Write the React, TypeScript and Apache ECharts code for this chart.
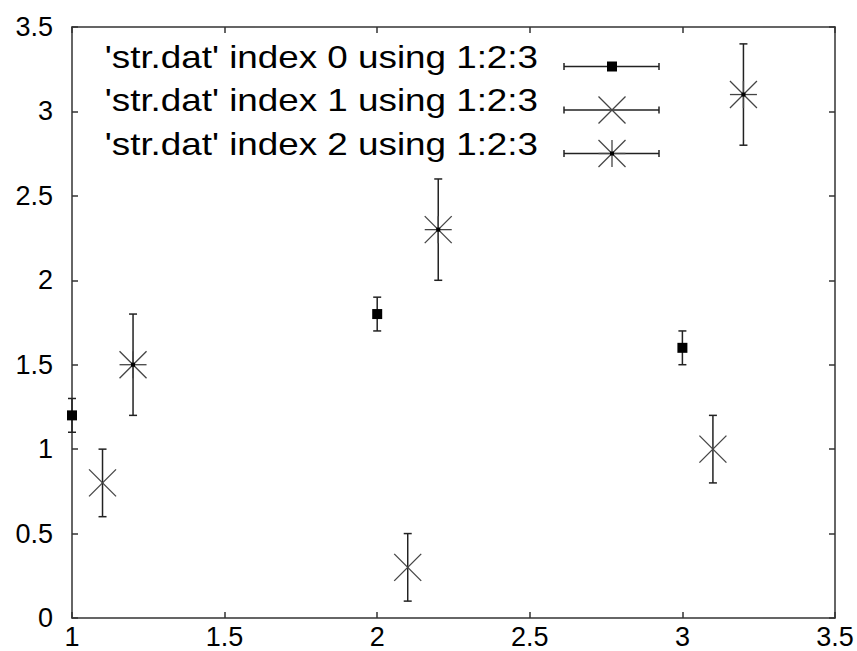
import React, { useEffect, useRef } from "react";
import * as echarts from "echarts";

const seriesNames = [
  "'str.dat' index 0 using 1:2:3",
  "'str.dat' index 1 using 1:2:3",
  "'str.dat' index 2 using 1:2:3",
];
const markerKinds = ["square", "cross", "star"];

const xValues0 = [1, 2, 3];
const yValues0 = [1.2, 1.8, 1.6];
const errors0 = [0.1, 0.1, 0.1];

const xValues1 = [1.1, 2.1, 3.1];
const yValues1 = [0.8, 0.3, 1.0];
const errors1 = [0.2, 0.2, 0.2];

const xValues2 = [1.2, 2.2, 3.2];
const yValues2 = [1.5, 2.3, 3.1];
const errors2 = [0.3, 0.3, 0.3];

const xTicks = [1, 1.5, 2, 2.5, 3, 3.5];
const yTicks = [0, 0.5, 1, 1.5, 2, 2.5, 3, 3.5];

const FONT = '"Liberation Sans", Arial, sans-serif';
const BAR_COLOR = "#222";
const MARK_COLOR = "#444";

function markerShapes(kind: string, cx: number, cy: number): any[] {
  const r = 13.5;
  const ls = { stroke: MARK_COLOR, lineWidth: 1.3 };
  if (kind === "square") {
    return [
      { type: "rect", shape: { x: cx - 5, y: cy - 5, width: 10, height: 10 }, style: { fill: "#000" } },
    ];
  }
  const out: any[] = [
    { type: "line", shape: { x1: cx - r, y1: cy - r, x2: cx + r, y2: cy + r }, style: ls },
    { type: "line", shape: { x1: cx - r, y1: cy + r, x2: cx + r, y2: cy - r }, style: ls },
  ];
  if (kind === "star") {
    out.push({ type: "line", shape: { x1: cx - r, y1: cy, x2: cx + r, y2: cy }, style: ls });
    out.push({ type: "line", shape: { x1: cx, y1: cy - r, x2: cx, y2: cy + r }, style: ls });
    out.push({ type: "rect", shape: { x: cx - 2, y: cy - 2, width: 4, height: 4 }, style: { fill: "#000" } });
  }
  return out;
}

function makeRenderItem(kind: string) {
  return (params: any, api: any) => {
    const x = api.value(0);
    const y = api.value(1);
    const e = api.value(2);
    const c = api.coord([x, y]);
    const hi = api.coord([x, y + e]);
    const lo = api.coord([x, y - e]);
    const bs = { stroke: BAR_COLOR, lineWidth: 1.5 };
    const cap = 4;
    return {
      type: "group",
      children: [
        { type: "line", shape: { x1: c[0], y1: hi[1], x2: c[0], y2: lo[1] }, style: bs },
        { type: "line", shape: { x1: c[0] - cap, y1: hi[1], x2: c[0] + cap, y2: hi[1] }, style: bs },
        { type: "line", shape: { x1: c[0] - cap, y1: lo[1], x2: c[0] + cap, y2: lo[1] }, style: bs },
        ...markerShapes(kind, c[0], c[1]),
      ],
    };
  };
}

function zip(xs: number[], ys: number[], es: number[]) {
  return xs.map((x, i) => [x, ys[i], es[i]]);
}

export default function App() {
  const ref = useRef<HTMLDivElement>(null);
  useEffect(() => {
    if (!ref.current) return;
    const chart = echarts.init(ref.current, undefined, { renderer: "svg" });
    const axisLine = { show: true, onZero: false, lineStyle: { color: "#333", width: 1.5 } };
    const axisTick = { show: true, inside: true, length: 6, lineStyle: { color: "#333", width: 1.5 } };
    const labelStyle = { color: "#000", fontSize: 27, fontFamily: FONT, showMinLabel: true, showMaxLabel: true };

    const dataSets = [
      zip(xValues0, yValues0, errors0),
      zip(xValues1, yValues1, errors1),
      zip(xValues2, yValues2, errors2),
    ];

    const legendGraphics: any[] = [];
    const rowY = [66.5, 110, 153.5];
    const lx1 = 564, lx2 = 659, lmid = 612;
    seriesNames.forEach((name, i) => {
      const y = rowY[i];
      legendGraphics.push({
        type: "text",
        x: 538,
        y: y - 10,
        scaleX: 1.15,
        style: { text: name, font: `32px ${FONT}`, fill: "#000", align: "right", verticalAlign: "middle" },
      });
      const bs = { stroke: BAR_COLOR, lineWidth: 1.5 };
      legendGraphics.push({ type: "line", shape: { x1: lx1, y1: y, x2: lx2, y2: y }, style: bs });
      legendGraphics.push({ type: "line", shape: { x1: lx1, y1: y - 3.5, x2: lx1, y2: y + 3.5 }, style: bs });
      legendGraphics.push({ type: "line", shape: { x1: lx2, y1: y - 3.5, x2: lx2, y2: y + 3.5 }, style: bs });
      markerShapes(markerKinds[i], lmid, y).forEach((s) => legendGraphics.push(s));
    });

    chart.setOption({
      animation: false,
      backgroundColor: "#fff",
      grid: { left: 72, right: 22, top: 27, bottom: 33, containLabel: false },
      xAxis: [
        {
          type: "value",
          min: xTicks[0],
          max: xTicks[xTicks.length - 1],
          interval: 0.5,
          position: "bottom",
          axisLine,
          axisTick,
          axisLabel: { ...labelStyle, margin: 5 },
          splitLine: { show: false },
        },
        {
          type: "value",
          min: xTicks[0],
          max: xTicks[xTicks.length - 1],
          interval: 0.5,
          position: "top",
          axisLine,
          axisTick,
          axisLabel: { show: false },
          splitLine: { show: false },
        },
      ],
      yAxis: [
        {
          type: "value",
          min: yTicks[0],
          max: yTicks[yTicks.length - 1],
          interval: 0.5,
          position: "left",
          axisLine,
          axisTick,
          axisLabel: { ...labelStyle, margin: 19 },
          splitLine: { show: false },
        },
        {
          type: "value",
          min: yTicks[0],
          max: yTicks[yTicks.length - 1],
          interval: 0.5,
          position: "right",
          axisLine,
          axisTick,
          axisLabel: { show: false },
          splitLine: { show: false },
        },
      ],
      series: dataSets.map((data, i) => ({
        type: "custom",
        name: seriesNames[i],
        xAxisIndex: 0,
        yAxisIndex: 0,
        data,
        renderItem: makeRenderItem(markerKinds[i]),
        encode: { x: 0, y: 1 },
      })),
      graphic: legendGraphics,
    });
    return () => chart.dispose();
  }, []);
  return <div ref={ref} style={{ width: 857, height: 651, position: "absolute", left: 0, top: 0 }} />;
}
